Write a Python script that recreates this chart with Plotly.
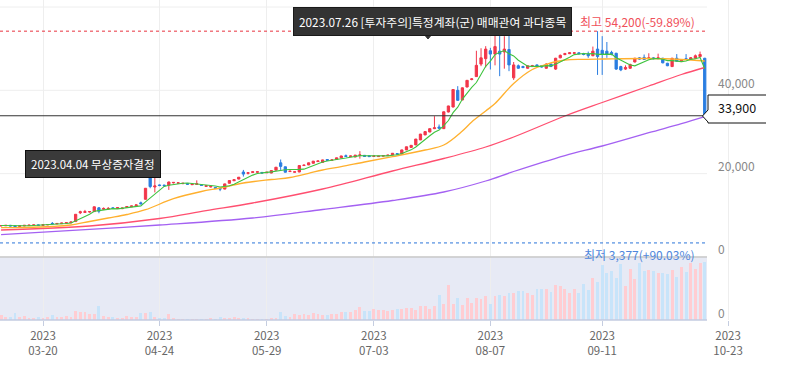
import pandas as pd
import plotly.graph_objects as go

# ---------------- data ----------------
holidays = ["2023-05-01", "2023-05-05", "2023-05-29", "2023-06-06", "2023-08-15",
            "2023-09-28", "2023-09-29", "2023-10-02", "2023-10-03", "2023-10-09"]
dates = [d.strftime("%Y-%m-%d") for d in pd.bdate_range("2023-03-07", "2023-10-18")
         if d.strftime("%Y-%m-%d") not in holidays]

opens = [7450, 7500, 7600, 7500, 7350, 7450, 7550, 7600, 7700,
         7600, 7700, 8050, 7950, 8000, 8100, 8200, 8500, 10600, 10700,
         10800, 10900, 11800, 11450, 11500, 11800, 11650, 11600, 11900, 12050,
         12300, 13000, 13850, 19100, 16800, 17300, 17250, 17250, 17800, 17700,
         17600, 17650, 17350, 17400, 17300, 16950, 16800, 16700, 16450, 16300,
         17700, 18300, 18700, 20400, 20100, 20300, 20350, 20300, 20200, 20150,
         20850, 22600, 21650, 20500, 20350, 20400, 21950, 22100, 22500, 22900,
         22700, 23400, 23200, 23400, 23800, 24300, 24100, 24000, 24400, 24400,
         24300, 24150, 24100, 24200, 24350, 24500, 24800, 24700, 25700, 26300,
         26900, 28100, 29300, 30000, 30800, 31200, 30800, 34800, 36000, 40000,
         37700, 40800, 42600, 43300, 46300, 47600, 49500, 48700, 49400, 49200,
         49800, 43000, 45900, 45700, 45300, 45700, 46100, 45900, 45300, 46300,
         45100, 47800, 48600, 48800, 48900, 49000, 48800, 48700, 48300, 49900,
         49600, 49400, 49100, 48900, 45700, 45100, 45300, 46800, 47800, 47900,
         47600, 47800, 47600, 47700, 46500, 45700, 47700, 46900, 47600, 47500,
         47700, 48100, 47700]
highs = [7600, 7650, 7700, 7600, 7550, 7650, 7700, 7750, 7800,
         7800, 7850, 8400, 8100, 8200, 8300, 8450, 10300, 11100, 11300,
         11000, 12100, 12000, 11900, 12000, 11950, 11950, 11850, 12200, 12300,
         12600, 13300, 16550, 19750, 19000, 17400, 17350, 18100, 18000, 17900,
         17750, 17750, 17600, 18400, 17400, 17150, 17000, 16750, 16500, 17600,
         18400, 18600, 19200, 20900, 20400, 20500, 20550, 20400, 20400, 20800,
         21600, 23400, 21700, 20700, 20500, 22000, 22150, 22650, 23050, 23100,
         23350, 23450, 23400, 23850, 24300, 24600, 24300, 24500, 25400, 24450,
         24350, 24400, 24250, 24400, 24500, 24950, 24850, 25750, 26500, 26850,
         28350, 29550, 30150, 30850, 33800, 31800, 34900, 36300, 40250, 41000,
         40700, 42450, 42900, 49500, 50100, 50600, 50200, 53800, 53700, 53000,
         53900, 46800, 46200, 45900, 46000, 46100, 46200, 46000, 46500, 46400,
         47800, 48600, 49000, 49200, 49200, 49100, 49000, 49300, 50500, 54200,
         53000, 51600, 49500, 49000, 45900, 46000, 46400, 47800, 48000, 48600,
         48900, 48000, 48800, 47800, 46600, 47800, 48700, 47400, 48700, 48000,
         48600, 49300, 47800]
lows = [7400, 7450, 7400, 7150, 7300, 7400, 7500, 7550, 7550,
        7550, 7650, 7900, 7900, 7950, 8050, 8150, 8450, 10300, 10600,
        10650, 10850, 10500, 11300, 11400, 11550, 11600, 11500, 11850, 12000,
        12250, 12700, 13800, 16500, 15500, 17000, 17000, 16100, 17650, 17600,
        17500, 17350, 17300, 17350, 17100, 16900, 16700, 16400, 15800, 16250,
        17650, 18250, 18650, 19300, 19800, 20200, 20300, 20100, 20150, 20100,
        20800, 20900, 20300, 20400, 20300, 20350, 21900, 22050, 22450, 22850,
        22650, 23150, 23150, 23350, 23750, 24100, 24050, 23950, 23600, 24100,
        24050, 24050, 24050, 24150, 24300, 24450, 24650, 24650, 25650, 26250,
        26850, 28050, 29250, 29950, 30700, 30800, 30750, 34700, 35900, 37500,
        37600, 40700, 42400, 43200, 45800, 45500, 45000, 46000, 43400, 45200,
        44600, 42500, 45200, 45300, 45200, 45600, 45800, 45500, 45200, 45600,
        44900, 47700, 48400, 48700, 48800, 48600, 48400, 47800, 48200, 43700,
        43700, 47800, 48400, 44900, 44600, 44900, 45200, 46700, 47300, 47300,
        47500, 47400, 47500, 46500, 45800, 45600, 46900, 46800, 47300, 47400,
        47600, 48000, 33900]
closes = [7550, 7600, 7450, 7300, 7500, 7600, 7650, 7700, 7600,
          7750, 7800, 7950, 8050, 8150, 8250, 8400, 10250, 10850, 10880,
          10900, 12050, 11000, 11650, 11650, 11650, 11850, 11750, 12100, 12250,
          12500, 12750, 16500, 16900, 17050, 17150, 17100, 18000, 17900, 17800,
          17700, 17450, 17500, 17600, 17200, 17100, 16950, 16450, 16300, 17550,
          18350, 18550, 19150, 19900, 20200, 20450, 20450, 20150, 20350, 20750,
          21550, 21750, 20350, 20600, 20450, 21950, 22050, 22600, 23000, 23050,
          23300, 23200, 23300, 23800, 24250, 24150, 24250, 24450, 24500, 24150,
          24100, 24250, 24200, 24350, 24450, 24900, 24700, 25700, 26450, 26800,
          28300, 29500, 30100, 30800, 31000, 30900, 34850, 36250, 40200, 37600,
          40600, 42400, 42750, 46000, 47800, 49900, 48700, 50500, 48700, 49900,
          46100, 46100, 45300, 45500, 45900, 45900, 45900, 45600, 46300, 45700,
          47700, 48400, 48800, 49000, 49000, 48800, 48600, 48300, 49400, 48100,
          48700, 48600, 48600, 45100, 44900, 45500, 46200, 47700, 47500, 47400,
          47800, 47600, 47800, 46600, 45900, 47700, 47000, 47300, 47400, 47800,
          48300, 48600, 33900]
volumes = [50000, 30000, 30000, 70000, 30000, 40000, 20000, 20000, 30000,
           20000, 30000, 50000, 30000, 30000, 40000, 30000, 90000, 80000, 80000,
           60000, 60000, 140000, 40000, 30000, 30000, 10000, 20000, 40000, 30000,
           30000, 70000, 70000, 80000, 30000, 10000, 10000, 60000, 10000, 4000,
           3000, 3000, 3000, 4000, 3000, 3000, 10000, 5000, 30000, 20000,
           10000, 30000, 10000, 10000, 10000, 4000, 3000, 3000, 4000, 20000,
           20000, 80000, 40000, 30000, 60000, 50000, 60000, 50000, 70000, 60000,
           50000, 50000, 60000, 60000, 80000, 80000, 80000, 100000, 130000, 90000,
           90000, 110000, 100000, 100000, 90000, 100000, 110000, 110000,
           120000, 120000, 100000, 140000, 140000, 110000, 140000, 250000, 160000, 340000,
           160000, 220000, 150000, 220000, 170000, 220000, 210000, 240000, 160000, 240000,
           250000, 240000, 270000, 270000, 290000, 290000, 270000, 250000, 310000, 310000,
           310000, 280000, 340000, 330000, 310000, 270000, 310000, 270000, 350000, 300000,
           410000, 370000, 540000, 460000, 480000, 410000, 550000, 330000, 500000, 400000,
           560000, 480000, 490000, 480000, 460000, 460000, 450000, 490000, 420000, 520000,
           470000, 560000, 500000, 560000, 570000]

# moving averages (day index -> price)
ma20_day = [0, 5, 11, 15, 19, 23, 27, 31, 37, 43, 47, 52, 58, 62, 66, 69, 73, 78, 84, 91,
            95, 99, 101, 104, 106, 110, 114, 117, 121, 125, 129, 139, 146, 151]
ma20_val = [7030, 7080, 7320, 7680, 8520, 9360, 10200, 11350, 13990, 15720, 16560, 17760,
            18600, 19080, 20090, 20880, 21670, 22800, 24070, 25680, 26880, 30240, 32400,
            35040, 36840, 41640, 45000, 46250, 47280, 47450, 47520, 47640, 47400, 47040]
ma60_day = [0, 19, 34, 44, 54, 69, 84, 95, 104, 110, 121, 129, 139, 146, 151]
ma60_val = [6480, 7440, 9240, 11140, 12960, 16320, 20640, 23640, 26400, 28800, 33840,
            37080, 41040, 43800, 45480]
ma120_day = [0, 19, 34, 54, 69, 84, 95, 104, 110, 121, 129, 139, 146, 151]
ma120_val = [5350, 6620, 7680, 9360, 11400, 13560, 15600, 18240, 20520, 24340, 26640,
             29830, 31990, 33670]

hi_price, hi_text = 54200, "최고 54,200(-59.89%)"
lo_price, lo_text = 3377, "최저 3,377(+90.03%)"
note1 = "2023.07.26 [투자주의]특정계좌(군) 매매관여 과다종목"
note2 = "2023.04.04 무상증자결정"

tick_weeks = ["2023-03-20", "2023-04-24", "2023-05-29", "2023-07-03", "2023-08-07",
              "2023-09-11", "2023-10-23"]
price_ticks = [0, 20000, 40000]

n = len(dates)
assert n == 152
for arr in (opens, highs, lows, closes, volumes):
    assert len(arr) == n, len(arr)
assert len(ma20_day) == len(ma20_val) and len(ma60_day) == len(ma60_val) and len(ma120_day) == len(ma120_val)

# ---------------- geometry ----------------
W, H = 787, 369
MB = 49
PH = H - MB            # plot height 320
VOL_PX = 63
vol_dom = VOL_PX / PH
CHART_R = 707          # right edge of the drawing area (px)
PX_PER_DAY = 4.66
ref_i = dates.index("2023-03-20")
REF_PX = 43
x_range = [ref_i - REF_PX / PX_PER_DAY, ref_i + (W - REF_PX) / PX_PER_DAY]
price_top = 61680
vol_top = 620000


def pxx(px):
    return px / W


def pxy(py):
    return 1 - py / PH


xs = list(range(n))
ma5 = pd.Series(closes).rolling(5, min_periods=1).mean().tolist()

tickvals, ticktext = [], []
for w in tick_weeks:
    later = [i for i, d in enumerate(dates) if d >= w]
    tickvals.append(later[0] if later else n + 4)
    ticktext.append(w[:4] + "<br>" + w[5:])

UP, DOWN = "#f2364a", "#2a7de1"
vol_colors = ["#ffcdd2" if c >= o else "#c8e4fa" for o, c in zip(opens, closes)]

FONT = "Noto Sans CJK KR, Noto Sans, sans-serif"

fig = go.Figure()

fig.add_trace(go.Bar(x=xs, y=volumes, marker=dict(color=vol_colors, line=dict(width=0)),
                     width=0.62, yaxis="y2", hoverinfo="skip"))

fig.add_trace(go.Scatter(x=ma120_day, y=ma120_val, mode="lines",
                         line=dict(color="#a461f2", width=1.3, shape="spline"), hoverinfo="skip"))
fig.add_trace(go.Scatter(x=ma60_day, y=ma60_val, mode="lines",
                         line=dict(color="#ff4f70", width=1.3, shape="spline"), hoverinfo="skip"))
fig.add_trace(go.Scatter(x=ma20_day, y=ma20_val, mode="lines",
                         line=dict(color="#ffb02e", width=1.3, shape="spline"), hoverinfo="skip"))
fig.add_trace(go.Scatter(x=xs, y=ma5, mode="lines",
                         line=dict(color="#3ec33e", width=1.1), hoverinfo="skip"))

fig.add_trace(go.Candlestick(
    x=xs, open=opens, high=highs, low=lows, close=closes,
    increasing=dict(line=dict(color=UP, width=1), fillcolor=UP),
    decreasing=dict(line=dict(color=DOWN, width=1), fillcolor=DOWN),
    whiskerwidth=0, hoverinfo="skip"))

shapes = []
for v in price_ticks + [60000]:
    shapes.append(dict(type="line", xref="paper", yref="y", x0=0, x1=pxx(CHART_R), y0=v, y1=v,
                       line=dict(color="#eeeeee", width=1), layer="below"))
shapes.append(dict(type="rect", xref="paper", yref="paper", x0=0, x1=pxx(CHART_R), y0=0, y1=vol_dom,
                   fillcolor="#e7eaf5", line=dict(width=0), layer="below"))
shapes.append(dict(type="line", xref="paper", yref="paper", x0=0, x1=pxx(CHART_R), y0=vol_dom, y1=vol_dom,
                   line=dict(color="#c8c8c8", width=1.5)))
shapes.append(dict(type="line", xref="paper", yref="paper", x0=0, x1=pxx(CHART_R), y0=0, y1=0,
                   line=dict(color="#c3cbe0", width=1.5)))
shapes.append(dict(type="line", xref="paper", yref="y", x0=0, x1=pxx(CHART_R), y0=hi_price, y1=hi_price,
                   line=dict(color="#e8333f", width=1, dash="dot")))
shapes.append(dict(type="line", xref="paper", yref="y", x0=0, x1=pxx(CHART_R), y0=lo_price, y1=lo_price,
                   line=dict(color="#2b74d9", width=1, dash="dot")))
shapes.append(dict(type="line", xref="paper", yref="y", x0=0, x1=pxx(CHART_R), y0=closes[-1], y1=closes[-1],
                   line=dict(color="#333333", width=1)))
bx = [(766, 95), (708, 95), (708, 110), (702.5, 116), (708, 122), (708, 123), (766, 123)]
path = "M " + " L ".join(f"{pxx(a):.5f},{pxy(b):.5f}" for a, b in bx)
shapes.append(dict(type="path", xref="paper", yref="paper", path=path,
                   line=dict(color="#111111", width=1), fillcolor="white"))
tri = [(423, 33), (433, 33), (428, 39)]
shapes.append(dict(type="path", xref="paper", yref="paper",
                   path="M " + " L ".join(f"{pxx(a):.5f},{pxy(b):.5f}" for a, b in tri) + " Z",
                   line=dict(color="#333333", width=1), fillcolor="#333333"))

annotations = [
    dict(text=hi_text, xref="paper", yref="y", x=pxx(697), y=hi_price, xanchor="right", yanchor="middle",
         yshift=10, showarrow=False, font=dict(color="#f0505a", size=12, family=FONT)),
    dict(text=lo_text, xref="paper", yref="y", x=pxx(697), y=lo_price, xanchor="right", yanchor="middle",
         yshift=-12, showarrow=False, font=dict(color="#4f87dc", size=12, family=FONT)),
    dict(text=f"{closes[-1]:,}", xref="paper", yref="y", x=pxx(716), y=closes[-1], xanchor="left",
         yanchor="middle", yshift=8, showarrow=False, font=dict(color="#111111", size=12.5, family=FONT)),
    dict(text=note1, xref="paper", yref="paper", x=pxx(293), y=pxy(7), xanchor="left", yanchor="top",
         showarrow=False, bgcolor="#333333", bordercolor="#1a1a1a", borderwidth=1, borderpad=5,
         font=dict(color="white", size=11.8, family=FONT)),
    dict(text=note2, xref="paper", yref="paper", x=pxx(25), y=pxy(150), xanchor="left", yanchor="top",
         showarrow=False, bgcolor="#3a3a3a", bordercolor="#111111", borderwidth=1, borderpad=5,
         font=dict(color="white", size=11.5, family=FONT)),
]

fig.update_layout(
    width=W, height=H,
    margin=dict(l=0, r=0, t=0, b=MB),
    paper_bgcolor="white", plot_bgcolor="white",
    showlegend=False, bargap=0,
    font=dict(family=FONT),
    shapes=shapes, annotations=annotations,
    xaxis=dict(domain=[0, 1], range=x_range, anchor="y2", tickvals=tickvals, ticktext=ticktext,
               ticks="outside", ticklen=5, tickcolor="#c5cde0", showgrid=True, gridcolor="#eeeeee",
               zeroline=False, showline=False, rangeslider=dict(visible=False),
               tickfont=dict(color="#666666", size=11.5, family=FONT)),
    yaxis=dict(domain=[vol_dom, 1], range=[0, price_top], anchor="free", position=pxx(717), side="right",
               tickvals=price_ticks, ticktext=[f"{v:,}" for v in price_ticks],
               ticklabelposition="outside", ticklabelshift=-7, ticks="", showgrid=False,
               zeroline=False, showline=False,
               tickfont=dict(color="#888888", size=12, family=FONT)),
    yaxis2=dict(domain=[0, vol_dom], range=[0, vol_top], anchor="free", position=pxx(717), side="right",
                tickvals=[0], ticktext=["0"], ticklabelposition="outside", ticklabelshift=-6, ticks="",
                showgrid=False, zeroline=False, showline=False,
                tickfont=dict(color="#888888", size=12, family=FONT)),
)

fig.write_html("out.html", config={"displayModeBar": False},
               post_script="document.body.style.margin='0';document.body.style.padding='0';")
